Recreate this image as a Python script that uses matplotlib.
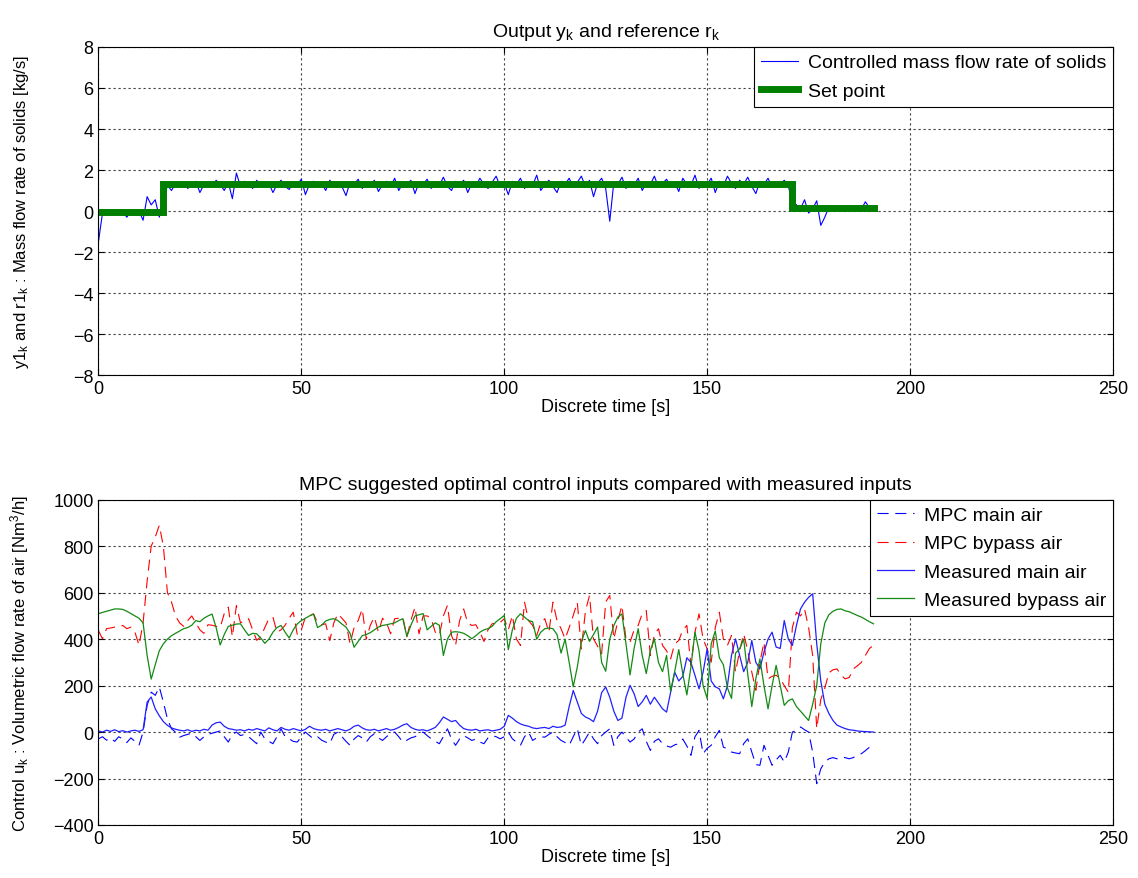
import matplotlib
matplotlib.use('Agg')
import matplotlib.pyplot as plt
import numpy as np

plt.rcParams['font.family'] = ['Liberation Sans', 'DejaVu Sans']
plt.rcParams['mathtext.default'] = 'regular'
plt.rcParams['font.size'] = 13

# ---- top panel: controlled mass flow of solids [kg/s], 1 s samples ----
solids_flow = [
    -1.5, -0.1, 0.0, -0.05, -0.1, 0.0, -0.05, -0.3, 0.0, -0.05,
    0.0, -0.45, 0.7, 0.3, 0.55, -0.3, 0.5, 1.25, 1.0, 1.35,
    1.2, 1.4, 1.1, 1.3, 1.45, 0.9, 1.3, 1.4, 1.2, 1.5,
    1.3, 1.0, 1.4, 0.6, 1.85, 1.2, 1.45, 1.3, 1.1, 1.5,
    1.25, 1.4, 1.35, 0.9, 1.3, 1.5, 1.2, 1.05, 1.4, 1.3,
    1.55, 0.8, 1.3, 1.45, 1.2, 1.35, 1.0, 1.5, 1.3, 1.4,
    1.2, 0.75, 1.4, 1.3, 1.55, 1.1, 1.35, 1.25, 1.5, 0.95,
    1.3, 1.45, 1.2, 1.6, 1.0, 1.35, 1.3, 1.5, 0.85, 1.4,
    1.3, 1.55, 1.1, 1.4, 1.25, 1.65, 1.2, 1.0, 1.45, 1.3,
    1.5, 0.9, 1.35, 1.2, 1.6, 1.3, 1.1, 1.4, 1.7, 1.2,
    1.35, 0.8, 1.45, 1.3, 1.6, 1.1, 1.4, 1.25, 1.75, 1.0,
    1.3, 1.5, 1.2, 0.9, 1.45, 1.3, 1.6, 1.15, 1.4, 1.7,
    1.2, 1.5, 0.7, 1.35, 1.6, 1.1, -0.5, 1.4, 1.3, 1.65,
    1.1, 1.45, 1.25, 1.6, 1.0, 1.4, 1.3, 1.7, 1.15, 1.35,
    1.55, 1.2, 1.4, 0.95, 1.6, 1.3, 1.25, 1.75, 1.1, 1.4,
    1.3, 1.6, 0.9, 1.45, 1.2, 1.7, 1.35, 1.1, 1.5, 1.3,
    1.65, 1.2, 0.85, 1.45, 1.3, 1.6, 1.15, 1.4, 1.3, 1.5,
    1.2, 0.5, 0.3, 0.1, 0.55, -0.1, 0.1, 0.5, -0.7, -0.3,
    0.2, 0.1, 0.15, 0.2, 0.1, 0.05, 0.15, 0.2, 0.1, 0.45,
    0.15, 0.1,
]
setpoint_times = [0, 16, 171, 191]
setpoint_levels = [-0.05, 1.3, 0.15, 0.15]

# ---- bottom panel: air flows [Nm3/h], 1 s samples ----
mpc_main = [
    -29, -20, -35, -25, -40, -20, -30, -45, -25, -40,
    -57, 0, 115, 172, 158, 194, 129, 57, 14, 0,
    -22, -15, -10, -5, -20, -36, -20, -10, -5, 0,
    5, -20, -43, -10, 0, -15, -10, -20, -35, -50,
    0, -29, -40, -50, -20, 14, -20, -29, -40, -43,
    -20, 0, -15, -29, -20, -35, -43, -50, -10, 0,
    -20, -40, -57, -30, -15, -25, -43, -20, -7, -25,
    -36, -20, -5, 0, -20, -43, -35, -25, -20, -10,
    0, -15, -29, -40, -50, -20, 14, -30, -57, -30,
    -15, -25, -36, -30, -43, -50, -25, -15, -20, -29,
    -20, 0, -29, -43, -57, -20, 0, -36, -25, -20,
    -22, -10, 0, -20, -36, -45, -57, -20, 14, -57,
    -30, 0, -29, -50, -15, 0, 14, -57, -20, 0,
    -22, -43, -30, 0, 14, -40, -79, -40, -29, -50,
    -60, -65, -55, -50, -30, -60, -100, -20, 7, -93,
    -70, -57, -20, 7, -65, -72, -86, -90, -93, -50,
    -29, -86, -140, -143, -57, -100, -143, -120, -100, -129,
    -86, 0, 7, 22, 10, 0, -86, -222, -158, -129,
    -115, -110, -115, -108, -110, -115, -110, -100, -93, -80,
    -65, -60,
]
mpc_bypass = [
    437, 401, 445, 448, 452, 455, 459, 445, 452, 430,
    373, 470, 650, 800, 840, 890, 800, 600, 560, 500,
    470, 455, 480, 500, 470, 440, 425, 462, 460, 455,
    450, 510, 538, 410, 545, 470, 480, 488, 440, 395,
    410, 450, 488, 495, 430, 440, 460, 490, 516, 420,
    440, 495, 500, 509, 470, 462, 466, 394, 470, 509,
    490, 470, 380, 450, 480, 530, 400, 460, 495, 430,
    490, 470, 423, 488, 490, 495, 410, 480, 538, 423,
    500, 500, 488, 430, 416, 500, 545, 416, 373, 480,
    530, 470, 459, 462, 430, 390, 440, 466, 470, 472,
    488, 440, 502, 400, 373, 559, 480, 459, 416, 470,
    488, 430, 559, 480, 445, 401, 450, 502, 559, 358,
    520, 588, 401, 370, 337, 560, 588, 401, 480, 545,
    400, 387, 440, 459, 510, 523, 330, 420, 445, 373,
    350, 315, 380, 394, 440, 459, 287, 430, 509, 400,
    358, 301, 450, 516, 400, 373, 416, 258, 350, 423,
    350, 258, 180, 300, 387, 229, 240, 245, 230, 200,
    172, 450, 516, 500, 530, 450, 330, 15, 140, 190,
    255, 268, 272, 245, 229, 235, 272, 285, 300, 330,
    360, 373,
]
measured_main = [
    5, 0, 8, 3, 10, 2, 6, 0, 5, 8,
    3, 10, 129, 151, 100, 70, 45, 29, 18, 12,
    8, 5, 10, 3, 8, 5, 12, 8, 30, 40,
    43, 25, 15, 12, 8, 10, 5, 12, 8, 15,
    10, 5, 18, 10, 5, 20, 12, 8, 15, 10,
    5, 12, 25, 15, 10, 8, 12, 5, 10, 15,
    10, 5, 12, 25, 30, 18, 10, 8, 12, 5,
    10, 15, 8, 12, 20, 30, 36, 20, 12, 8,
    10, 5, 12, 20, 40, 65, 55, 45, 50, 30,
    15, 10, 8, 12, 5, 8, 10, 5, 8, 12,
    25, 72, 60, 45, 35, 29, 25, 18, 15, 18,
    20, 15, 25, 20, 22, 30, 110, 179, 130, 80,
    65, 57, 45, 90, 170, 194, 150, 90, 50, 60,
    150, 201, 165, 110, 130, 158, 120, 150, 125, 100,
    86, 172, 258, 220, 240, 320, 300, 244, 186, 258,
    358, 220, 195, 186, 143, 200, 330, 401, 330, 260,
    300, 394, 300, 272, 344, 400, 430, 366, 360, 480,
    400, 373, 459, 530, 559, 580, 595, 380, 220, 120,
    80, 50, 30, 22, 15, 10, 8, 5, 3, 2,
    1, 0,
]
measured_bypass = [
    510, 515, 520, 525, 530, 530, 528, 520, 510, 500,
    490, 470, 330, 228, 290, 350, 380, 400, 415, 425,
    435, 445, 450, 460, 480, 475, 490, 500, 508, 450,
    375, 420, 455, 460, 465, 466, 440, 416, 425, 423,
    405, 382, 400, 430, 450, 459, 430, 405, 440, 466,
    480, 490, 500, 508, 450, 460, 478, 485, 488, 480,
    465, 452, 425, 365, 390, 415, 420, 428, 440, 452,
    459, 462, 466, 470, 480, 488, 412, 460, 500, 505,
    510, 440, 455, 470, 460, 330, 400, 430, 432, 430,
    425, 415, 402, 415, 430, 440, 445, 455, 475, 488,
    502, 355, 440, 490, 509, 495, 480, 475, 400, 430,
    445, 448, 445, 420, 340, 400, 300, 195, 280, 390,
    437, 390, 420, 452, 300, 262, 400, 459, 495, 509,
    380, 246, 360, 445, 330, 252, 350, 401, 300, 260,
    330, 175, 260, 355, 250, 160, 280, 430, 350, 200,
    145, 380, 435, 320, 290, 190, 145, 340, 358, 400,
    250, 110, 230, 315, 200, 100, 200, 287, 200, 115,
    135, 143, 110, 90, 70, 50, 120, 200, 380, 470,
    505, 520, 528, 530, 522, 518, 510, 502, 495, 485,
    475, 466,
]

t_top = np.arange(len(solids_flow))
t_low = np.arange(len(mpc_main))

fig = plt.figure(figsize=(11.38, 8.79), dpi=100)
ax1 = fig.add_axes([0.0865, 0.5722, 0.8915, 0.3732])
ax2 = fig.add_axes([0.0865, 0.0603, 0.8915, 0.3700])

grid_kw = dict(color='0.25', linestyle=(0, (2, 2.5)), linewidth=0.8)
legend_kw = dict(loc='upper right', borderaxespad=0, fancybox=False,
                 edgecolor='black', framealpha=1, fontsize=14,
                 handlelength=1.9, handletextpad=0.5, borderpad=0.35,
                 labelspacing=0.55)


def style_axes(ax, yticks):
    ax.set_xlim(0, 250)
    ax.set_xticks(np.arange(0, 251, 50))
    ax.set_yticks(yticks)
    ax.set_ylim(yticks[0], yticks[-1])
    ax.grid(True, **grid_kw)
    ax.tick_params(direction='in', top=True, right=True, length=4, labelsize=13)
    for sp in ax.spines.values():
        sp.set_linewidth(0.8)
    ax.set_xlabel('Discrete time [s]', labelpad=1)
    ax.yaxis.set_label_coords(-0.066, 0.5)


ax1.plot(t_top, solids_flow, color='#0000ff', linewidth=0.8,
         label='Controlled mass flow rate of solids')
ax1.plot(setpoint_times, setpoint_levels, color='#007f00', linewidth=5,
         drawstyle='steps-post', label='Set point', solid_joinstyle='miter')
style_axes(ax1, np.arange(-8, 9, 2))
ax1.set_title('Output y$_k$ and reference r$_k$', fontsize=14, pad=8)
ax1.set_ylabel('y1$_k$ and r1$_k$ : Mass flow rate of solids [kg/s]', fontsize=12)
leg1 = ax1.legend(**legend_kw)
leg1.get_frame().set_linewidth(0.8)

ax2.plot(t_low, mpc_main, color='#0000ff', linewidth=0.8, dashes=(10, 6),
         label='MPC main air')
ax2.plot(t_low, mpc_bypass, color='#ff0000', linewidth=0.8, dashes=(10, 6),
         label='MPC bypass air')
ax2.plot(t_low, measured_main, color='#2020ff', linewidth=0.9,
         label='Measured main air')
ax2.plot(t_low, measured_bypass, color='#138a13', linewidth=0.9,
         label='Measured bypass air')
style_axes(ax2, np.arange(-400, 1001, 200))
ax2.set_title('MPC suggested optimal control inputs compared with measured inputs',
              fontsize=14, pad=8)
ax2.set_ylabel('Control u$_k$ : Volumetric flow rate of air [Nm$^3$/h]', fontsize=12)
leg2 = ax2.legend(**legend_kw)
leg2.get_frame().set_linewidth(0.8)

fig.savefig('out.png', dpi=100)
